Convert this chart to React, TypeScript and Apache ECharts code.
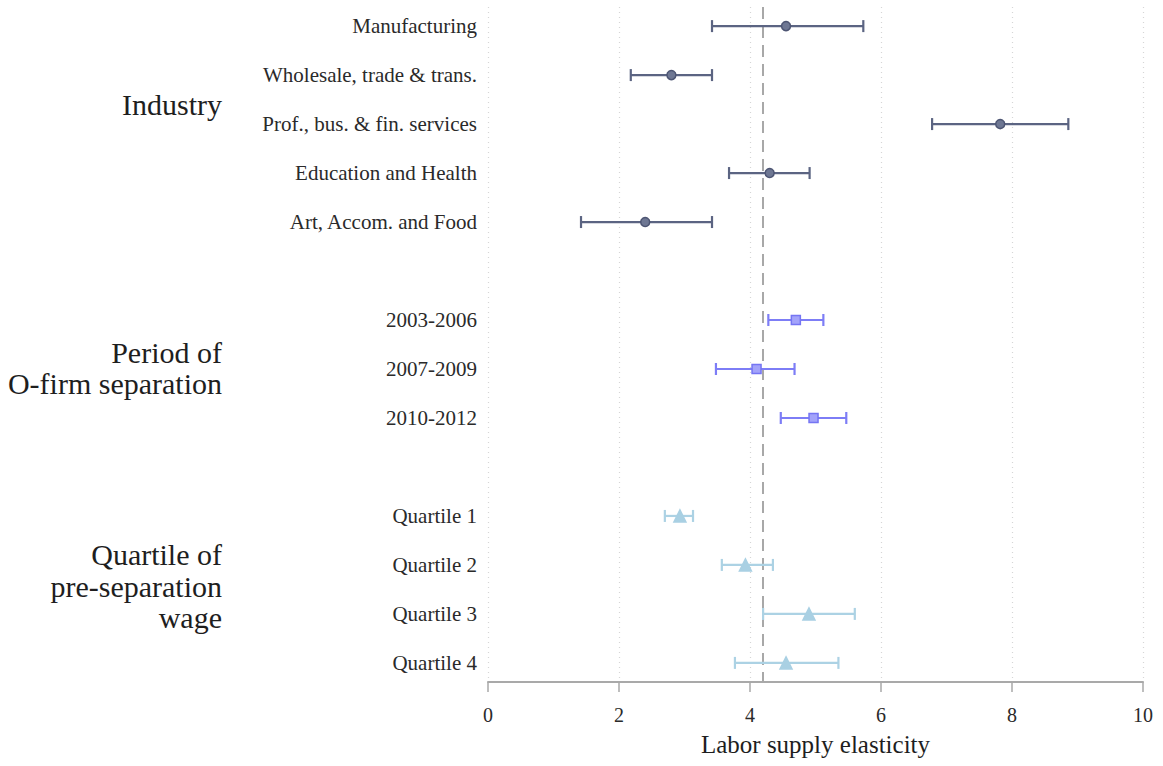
import React, { useEffect, useRef } from "react";
import * as echarts from "echarts";

const rowLabels = [
  "Manufacturing",
  "Wholesale, trade & trans.",
  "Prof., bus. & fin. services",
  "Education and Health",
  "Art, Accom. and Food",
  "",
  "2003-2006",
  "2007-2009",
  "2010-2012",
  "",
  "Quartile 1",
  "Quartile 2",
  "Quartile 3",
  "Quartile 4",
];
const rowTicks = [0, 1, 2, 3, 4, 6, 7, 8, 10, 11, 12, 13];

const industryRows = [0, 1, 2, 3, 4];
const industryEst = [4.55, 2.8, 7.82, 4.3, 2.4];
const industryLo = [3.42, 2.18, 6.78, 3.68, 1.42];
const industryHi = [5.73, 3.42, 8.86, 4.91, 3.42];

const periodRows = [6, 7, 8];
const periodEst = [4.7, 4.1, 4.97];
const periodLo = [4.28, 3.48, 4.47];
const periodHi = [5.12, 4.68, 5.47];

const quartileRows = [10, 11, 12, 13];
const quartileEst = [2.93, 3.93, 4.9, 4.55];
const quartileLo = [2.7, 3.57, 4.2, 3.77];
const quartileHi = [3.13, 4.35, 5.6, 5.35];

const referenceLine = 4.2;

const FONT = "'Liberation Serif', 'DejaVu Serif', serif";

function errorSeries(rows: number[], lo: number[], hi: number[], color: string) {
  return {
    type: "custom",
    silent: true,
    z: 2,
    data: rows.map((r, i) => [lo[i], r, hi[i]]),
    renderItem: (params: any, api: any) => {
      const a = api.coord([api.value(0), api.value(1)]);
      const b = api.coord([api.value(2), api.value(1)]);
      const h = 6;
      const style = { stroke: color, lineWidth: 2.2, fill: "none" };
      return {
        type: "group",
        children: [
          { type: "line", shape: { x1: a[0], y1: a[1], x2: b[0], y2: b[1] }, style },
          { type: "line", shape: { x1: a[0], y1: a[1] - h, x2: a[0], y2: a[1] + h }, style },
          { type: "line", shape: { x1: b[0], y1: b[1] - h, x2: b[0], y2: b[1] + h }, style },
        ],
      };
    },
  };
}

function pointSeries(rows: number[], est: number[], symbol: string, size: number, fill: string, border: string) {
  return {
    type: "scatter",
    z: 3,
    symbol,
    symbolSize: size,
    data: rows.map((r, i) => [est[i], r]),
    itemStyle: { color: fill, borderColor: border, borderWidth: 1.5, opacity: 1 },
  };
}

export default function App() {
  const ref = useRef<HTMLDivElement>(null);
  useEffect(() => {
    if (!ref.current) return;
    const chart = echarts.init(ref.current, null, { renderer: "svg" });
    const titleStyle = { font: `30px ${FONT}`, fill: "#1e1e1e", textAlign: "right", textVerticalAlign: "middle" };
    chart.setOption({
      animation: false,
      backgroundColor: "#fff",
      grid: { left: 488, right: 20, top: 7, bottom: 84, containLabel: false },
      xAxis: {
        type: "value",
        position: "bottom",
        min: 0,
        max: 10,
        interval: 2,
        name: "Labor supply elasticity",
        nameLocation: "middle",
        nameGap: 50,
        nameTextStyle: { fontFamily: FONT, fontSize: 25, color: "#1e1e1e" },
        axisLine: { show: true, onZero: false, lineStyle: { color: "#a9a9a9", width: 2 } },
        axisTick: { show: true, length: 10, lineStyle: { color: "#a9a9a9", width: 1.5 } },
        axisLabel: { fontFamily: FONT, fontSize: 20, color: "#2a2a2a", margin: 23 },
        splitLine: { show: true, lineStyle: { color: "#d6d6d6", type: [1, 4], width: 1.2 } },
      },
      yAxis: {
        type: "value",
        inverse: true,
        min: -0.39,
        max: 13.39,
        axisLine: { show: false, onZero: false },
        axisTick: { show: false },
        splitLine: { show: false },
        axisLabel: {
          fontFamily: FONT,
          fontSize: 21,
          color: "#2a2a2a",
          margin: 11,
          customValues: rowTicks,
          formatter: (v: number) => rowLabels[Math.round(v)] ?? "",
        },
      },
      graphic: [
        { type: "text", x: 222, y: 104, style: { ...titleStyle, text: "Industry" } },
        { type: "text", x: 222, y: 352, style: { ...titleStyle, text: "Period of" } },
        { type: "text", x: 222, y: 383, style: { ...titleStyle, text: "O-firm separation" } },
        { type: "text", x: 222, y: 554, style: { ...titleStyle, text: "Quartile of" } },
        { type: "text", x: 222, y: 586, style: { ...titleStyle, text: "pre-separation" } },
        { type: "text", x: 222, y: 617, style: { ...titleStyle, text: "wage" } },
      ],
      series: [
        {
          ...errorSeries(industryRows, industryLo, industryHi, "#5b6482"),
          markLine: {
            silent: true,
            symbol: "none",
            label: { show: false },
            lineStyle: { color: "#a8a8a8", type: [12, 7], width: 2 },
            data: [{ xAxis: referenceLine }],
            z: 1,
          },
        },
        errorSeries(periodRows, periodLo, periodHi, "#7d7df6"),
        errorSeries(quartileRows, quartileLo, quartileHi, "#acd2e4"),
        pointSeries(industryRows, industryEst, "circle", 9, "#6e7793", "#4d5573"),
        pointSeries(periodRows, periodEst, "rect", 9, "#a3a3fa", "#7575f3"),
        pointSeries(quartileRows, quartileEst, "triangle", 12, "#a9d0e3", "#a9d0e3"),
      ],
    });
    return () => chart.dispose();
  }, []);
  return (
    <div
      ref={ref}
      style={{ position: "absolute", left: 0, top: 0, width: 1163, height: 766, background: "#fff" }}
    />
  );
}
